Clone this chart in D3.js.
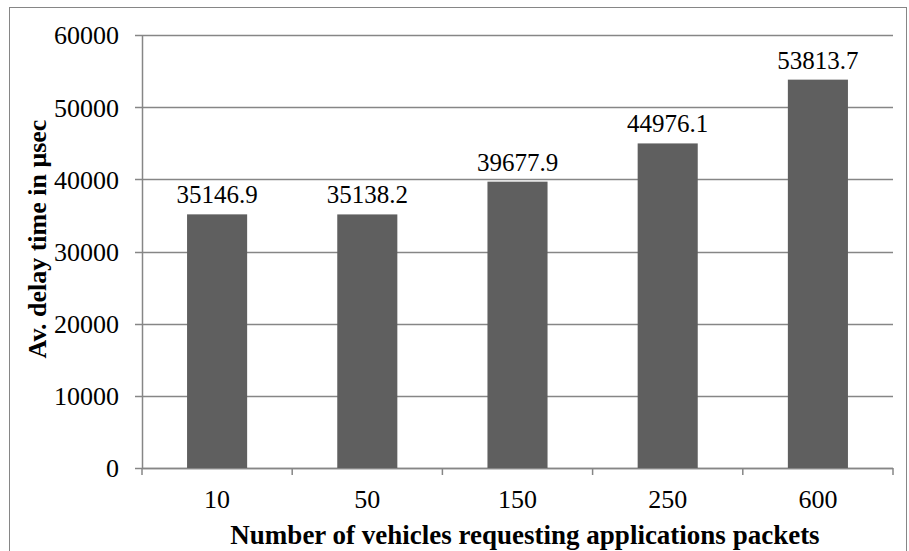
<!DOCTYPE html>
<html>
<head>
<meta charset="utf-8">
<script src="https://cdn.jsdelivr.net/npm/d3@7"></script>
<style>
  html, body { margin: 0; padding: 0; background: #fff; }
  svg { display: block; }
</style>
</head>
<body>
<svg id="chart" width="909" height="551"></svg>
<script>
// Vehicle counts and average delay per run
const categories = ["10", "50", "150", "250", "600"];
const delays = [35146.9, 35138.2, 39677.9, 44976.1, 53813.7];
const delayLabels = ["35146.9", "35138.2", "39677.9", "44976.1", "53813.7"];
const yTicks = [0, 10000, 20000, 30000, 40000, 50000, 60000];

const FONT = "'Liberation Serif', 'Times New Roman', serif";
const GRID = "#868686";

const svg = d3.select("#chart");
const margin = { left: 142, right: 16, top: 35, bottom: 82 };
const W = 909, H = 551;

// outer frame
svg.append("rect")
  .attr("x", 9.5).attr("y", 7.5)
  .attr("width", W - 12).attr("height", H)
  .attr("fill", "none").attr("stroke", GRID).attr("stroke-width", 1);

const x = d3.scaleBand()
  .domain(categories)
  .range([margin.left, W - margin.right])
  .paddingInner(0.6).paddingOuter(0.3);

const y = d3.scaleLinear()
  .domain([0, 60000])
  .range([H - margin.bottom - 1, margin.top]);

// gridlines
svg.append("g")
  .selectAll("line")
  .data(yTicks)
  .join("line")
  .attr("x1", margin.left - 7).attr("x2", W - margin.right)
  .attr("y1", d => Math.round(y(d)) + 0.5).attr("y2", d => Math.round(y(d)) + 0.5)
  .attr("stroke", GRID).attr("stroke-width", 1.5);

// y axis
const yAxis = svg.append("g")
  .attr("transform", `translate(${margin.left},0)`)
  .call(d3.axisLeft(y).tickValues(yTicks).tickFormat(d3.format("d")).tickSize(0).tickPadding(23));
yAxis.select(".domain").attr("stroke", GRID).attr("stroke-width", 1.5);
yAxis.selectAll("text")
  .style("font-family", FONT).style("font-size", "26px").style("fill", "#000")
  .attr("dy", "0.34em");

// x axis with ticks at band boundaries
const xAxisY = y(0);
const xAxis = svg.append("g")
  .attr("transform", `translate(0,${Math.round(xAxisY) + 0.5})`)
  .call(d3.axisBottom(x).tickSize(0).tickPadding(21));
xAxis.select(".domain").remove();
xAxis.selectAll("text")
  .style("font-family", FONT).style("font-size", "26px").style("fill", "#000");

const step = x.step();
const boundaries = d3.range(categories.length + 1).map(i => margin.left + i * step);
svg.append("g")
  .selectAll("line")
  .data(boundaries)
  .join("line")
  .attr("x1", d => d).attr("x2", d => d)
  .attr("y1", xAxisY).attr("y2", xAxisY + 7)
  .attr("stroke", GRID).attr("stroke-width", 1.5);
svg.append("line")
  .attr("x1", margin.left).attr("x2", W - margin.right)
  .attr("y1", Math.round(xAxisY) + 0.5).attr("y2", Math.round(xAxisY) + 0.5)
  .attr("stroke", GRID).attr("stroke-width", 1.5);

// bars
svg.append("g")
  .selectAll("rect")
  .data(delays)
  .join("rect")
  .attr("x", (d, i) => x(categories[i]))
  .attr("width", x.bandwidth())
  .attr("y", d => y(d))
  .attr("height", d => y(0) - y(d))
  .attr("fill", "#5f5f5f");

// value labels
svg.append("g")
  .selectAll("text")
  .data(delays)
  .join("text")
  .attr("x", (d, i) => x(categories[i]) + x.bandwidth() / 2)
  .attr("y", d => y(d) - 11)
  .attr("text-anchor", "middle")
  .style("font-family", FONT).style("font-size", "25px").style("fill", "#000")
  .text((d, i) => delayLabels[i]);

// axis titles
svg.append("text")
  .attr("x", 525).attr("y", 544)
  .attr("text-anchor", "middle")
  .style("font-family", FONT).style("font-size", "27px").style("font-weight", "bold")
  .text("Number of vehicles requesting applications packets");

svg.append("text")
  .attr("transform", "translate(46,239) rotate(-90)")
  .attr("text-anchor", "middle")
  .style("font-family", FONT).style("font-size", "26px").style("font-weight", "bold")
  .text("Av. delay time in μsec");
</script>
</body>
</html>
